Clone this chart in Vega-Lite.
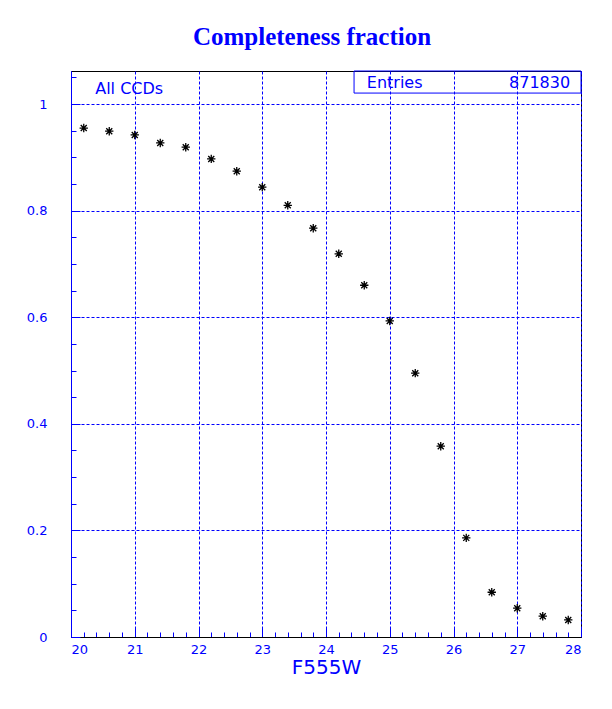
{
  "$schema": "https://vega.github.io/schema/vega-lite/v6.json",
  "width": 510,
  "height": 566,
  "autosize": {"type": "none"},
  "padding": {"left": 71, "top": 71, "right": 31, "bottom": 72},
  "background": "white",
  "title": {
    "text": "Completeness fraction",
    "font": "Liberation Serif",
    "fontSize": 25,
    "fontWeight": "bold",
    "color": "#0000ff",
    "anchor": "middle",
    "baseline": "alphabetic",
    "offset": 1,
    "dx": -14
  },
  "config": {
    "view": {"stroke": "black", "strokeWidth": 1},
    "axis": {
      "labelFont": "DejaVu Sans",
      "labelFontSize": 13,
      "labelColor": "#0000ff",
      "titleFont": "DejaVu Sans",
      "titleFontWeight": "normal",
      "titleColor": "#0000ff",
      "tickColor": "#0000ff",
      "gridColor": "#0000ff",
      "gridDash": [3, 2],
      "gridOpacity": 1,
      "gridWidth": 1
    }
  },
  "datasets": {
    "pts": [
      {"mag": 20.2, "frac": 0.955},
      {"mag": 20.6, "frac": 0.949},
      {"mag": 21.0, "frac": 0.942},
      {"mag": 21.4, "frac": 0.927},
      {"mag": 21.8, "frac": 0.919},
      {"mag": 22.2, "frac": 0.897},
      {"mag": 22.6, "frac": 0.874},
      {"mag": 23.0, "frac": 0.844},
      {"mag": 23.4, "frac": 0.810},
      {"mag": 23.8, "frac": 0.767},
      {"mag": 24.2, "frac": 0.719},
      {"mag": 24.6, "frac": 0.660},
      {"mag": 25.0, "frac": 0.593},
      {"mag": 25.4, "frac": 0.495},
      {"mag": 25.8, "frac": 0.358},
      {"mag": 26.2, "frac": 0.186},
      {"mag": 26.6, "frac": 0.084},
      {"mag": 27.0, "frac": 0.054},
      {"mag": 27.4, "frac": 0.039},
      {"mag": 27.8, "frac": 0.032}
    ],
    "box": [{"x1": 24.44, "x2": 28, "y1": 1.0206, "y2": 1.062}],
    "leftlabels": [
      {"x": 20.38, "y": 1.019, "text": "All CCDs"},
      {"x": 24.64, "y": 1.030, "text": "Entries"}
    ],
    "rightlabels": [
      {"x": 27.83, "y": 1.030, "text": "871830"}
    ]
  },
  "resolve": {"axis": {"x": "independent", "y": "independent"}},
  "layer": [
    {
      "data": {"name": "pts"},
      "mark": {"type": "point", "opacity": 0},
      "encoding": {
        "x": {
          "field": "mag", "type": "quantitative",
          "scale": {"domain": [20, 28], "nice": false, "zero": false},
          "axis": {
            "orient": "bottom",
            "values": [20.2,20.4,20.6,20.8,21.2,21.4,21.6,21.8,22.2,22.4,22.6,22.8,23.2,23.4,23.6,23.8,24.2,24.4,24.6,24.8,25.2,25.4,25.6,25.8,26.2,26.4,26.6,26.8,27.2,27.4,27.6,27.8],
            "labels": false, "grid": false, "domain": false,
            "tickSize": -5, "title": null
          }
        },
        "y": {
          "field": "frac", "type": "quantitative",
          "scale": {"domain": [0, 1.062], "nice": false},
          "axis": {
            "orient": "left",
            "values": [0.05,0.1,0.15,0.25,0.3,0.35,0.45,0.5,0.55,0.65,0.7,0.75,0.85,0.9,0.95,1.05],
            "labels": false, "grid": false, "domain": false,
            "tickSize": -5, "title": null
          }
        }
      }
    },
    {
      "data": {"name": "pts"},
      "mark": {
        "type": "point",
        "shape": "M-1,0L1,0M0,-1L0,1M-0.72,-0.72L0.72,0.72M-0.72,0.72L0.72,-0.72",
        "filled": false,
        "stroke": "black",
        "strokeWidth": 1.3,
        "size": 70,
        "opacity": 1
      },
      "encoding": {
        "x": {
          "field": "mag", "type": "quantitative",
          "scale": {"domain": [20, 28], "nice": false, "zero": false},
          "axis": {
            "orient": "bottom",
            "values": [20, 21, 22, 23, 24, 25, 26, 27, 28],
            "format": "d",
            "grid": true,
            "tickSize": -9,
            "labelPadding": 15,
            "domainColor": "black",
            "title": "F555W",
            "titleFontSize": 20,
            "titlePadding": 1
          }
        },
        "y": {
          "field": "frac", "type": "quantitative",
          "scale": {"domain": [0, 1.062], "nice": false},
          "axis": {
            "orient": "left",
            "values": [0, 0.2, 0.4, 0.6, 0.8, 1],
            "format": "~g",
            "grid": true,
            "tickSize": -9,
            "labelPadding": 33,
            "domainColor": "#0000ff",
            "title": null
          }
        }
      }
    },
    {
      "data": {"name": "box"},
      "mark": {"type": "rect", "fill": null, "stroke": "#0000ff", "strokeWidth": 1},
      "encoding": {
        "x": {"field": "x1", "type": "quantitative", "axis": null},
        "x2": {"field": "x2"},
        "y": {"field": "y1", "type": "quantitative", "axis": null},
        "y2": {"field": "y2"}
      }
    },
    {
      "data": {"name": "leftlabels"},
      "mark": {"type": "text", "font": "DejaVu Sans", "fontSize": 16, "color": "#0000ff", "baseline": "alphabetic", "align": "left"},
      "encoding": {
        "x": {"field": "x", "type": "quantitative", "axis": null},
        "y": {"field": "y", "type": "quantitative", "axis": null},
        "text": {"field": "text"}
      }
    },
    {
      "data": {"name": "rightlabels"},
      "mark": {"type": "text", "font": "DejaVu Sans", "fontSize": 16, "color": "#0000ff", "baseline": "alphabetic", "align": "right"},
      "encoding": {
        "x": {"field": "x", "type": "quantitative", "axis": null},
        "y": {"field": "y", "type": "quantitative", "axis": null},
        "text": {"field": "text"}
      }
    }
  ]
}
